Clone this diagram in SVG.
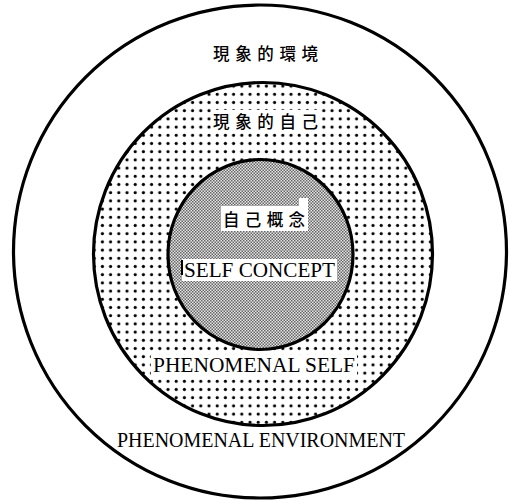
<svg xmlns="http://www.w3.org/2000/svg" width="517" height="503" viewBox="0 0 517 503">
<style>
.ring{stroke:#000;stroke-width:3.2}
.jp{font-family:"Noto Sans CJK JP","Noto Sans CJK SC",sans-serif;font-size:16.5px;fill:#000;font-weight:500}
.en{font-family:"Liberation Serif","DejaVu Serif","Times New Roman",serif;fill:#000}
.bg{fill:#fff}
</style>
<defs>
<pattern id="dots" x="0" y="0" width="8.2" height="8.2" patternUnits="userSpaceOnUse">
<rect width="8.2" height="8.2" fill="#fff"/>
<circle cx="4" cy="4" r="1.6" fill="#000"/>
</pattern>
<pattern id="halftone" x="0" y="0" width="3" height="3" patternUnits="userSpaceOnUse">
<rect width="3" height="3" fill="#e4e4e4"/>
<rect width="1.5" height="1.5" fill="#666"/>
<rect x="1.5" y="1.5" width="1.5" height="1.5" fill="#666"/>
</pattern>
</defs>
<rect width="517" height="503" fill="#fff"/>
<g id="environment">
<circle class="ring" cx="260" cy="251.5" r="246.5" fill="#fff"/>
<text class="jp" x="213" y="60" textLength="105" lengthAdjust="spacing">現象的環境</text>
<text class="en" x="117" y="447" font-size="20" textLength="288" lengthAdjust="spacingAndGlyphs">PHENOMENAL ENVIRONMENT</text>
</g>
<g id="phenomenal-self">
<ellipse class="ring" cx="263" cy="254" rx="169.5" ry="171.5" fill="url(#dots)"/>
<rect class="bg" x="211" y="110" width="109" height="22"/>
<text class="jp" x="213" y="128" textLength="105" lengthAdjust="spacing">現象的自己</text>
<rect class="bg" x="151" y="355" width="206" height="21"/>
<text class="en" x="153" y="372" font-size="21" textLength="202" lengthAdjust="spacingAndGlyphs">PHENOMENAL SELF</text>
</g>
<g id="self-concept">
<ellipse class="ring" cx="260.5" cy="254.5" rx="92.5" ry="95" fill="url(#halftone)"/>
<rect class="bg" x="221" y="206" width="87" height="25"/>
<rect class="bg" x="299" y="198" width="9" height="9"/>
<text class="jp" x="223" y="226" font-size="15.5" textLength="82" lengthAdjust="spacing">自己概念</text>
<rect class="bg" x="182" y="259" width="155" height="22"/>
<rect x="181" y="260" width="2" height="15" fill="#000"/>
<text class="en" x="184" y="277" font-size="20" textLength="151" lengthAdjust="spacingAndGlyphs">SELF CONCEPT</text>
</g>
<g id="connectors"/>
</svg>
